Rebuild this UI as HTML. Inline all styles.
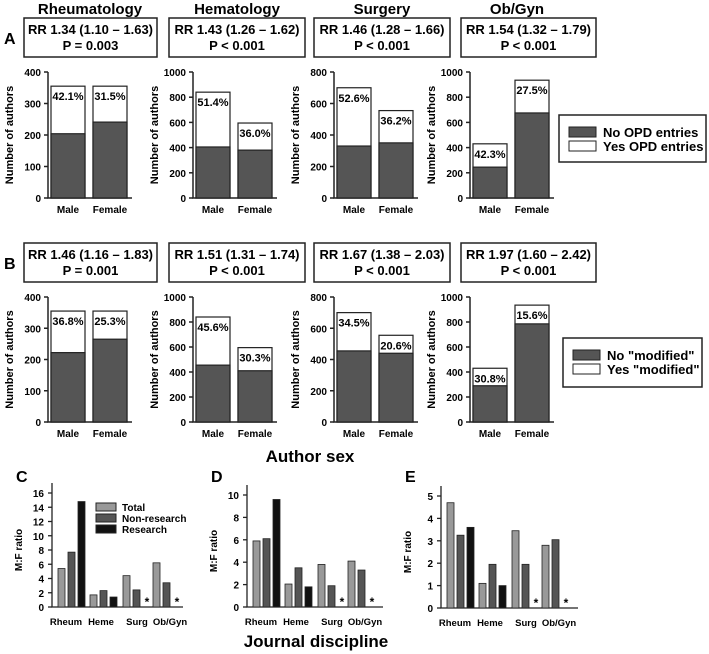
<!DOCTYPE html>
<html><head><meta charset="utf-8"><style>
body{margin:0;background:#fff;}
svg{display:block;font-family:"Liberation Sans",Arial,sans-serif;font-weight:bold;}
</style></head><body>
<svg id="fig" width="709" height="654" viewBox="0 0 709 654"></svg>
<script>
// ---- data ----
const disciplines = ["Rheumatology","Hematology","Surgery","Ob/Gyn"];
const sexes = ["Male","Female"];
const yMaxA = [400,1000,800,1000];
const tickStepA = [100,200,200,200];
const totalsA = [[355,355],[840,595],[700,555],[430,935]];
const noA = [[204,241],[405,380],[330,350],[245,675]];
const pctA = [["42.1%","31.5%"],["51.4%","36.0%"],["52.6%","36.2%"],["42.3%","27.5%"]];
const rrA = ["RR 1.34 (1.10 \u2013 1.63)","RR 1.43 (1.26 \u2013 1.62)","RR 1.46 (1.28 \u2013 1.66)","RR 1.54 (1.32 \u2013 1.79)"];
const pA = ["P = 0.003","P < 0.001","P < 0.001","P < 0.001"];
const totalsB = [[355,355],[840,595],[700,555],[430,935]];
const noB = [[222,265],[455,410],[455,440],[290,785]];
const pctB = [["36.8%","25.3%"],["45.6%","30.3%"],["34.5%","20.6%"],["30.8%","15.6%"]];
const rrB = ["RR 1.46 (1.16 \u2013 1.83)","RR 1.51 (1.31 \u2013 1.74)","RR 1.67 (1.38 \u2013 2.03)","RR 1.97 (1.60 \u2013 2.42)"];
const pB = ["P = 0.001","P < 0.001","P < 0.001","P < 0.001"];
const groups = ["Rheum","Heme","Surg","Ob/Gyn"];
const seriesNames = ["Total","Non-research","Research"];
const ratioC = [[5.4,7.7,14.8],[1.7,2.3,1.4],[4.4,2.4,null],[6.2,3.4,null]];
const ratioD = [[5.9,6.1,9.6],[2.05,3.5,1.8],[3.8,1.9,null],[4.1,3.3,null]];
const ratioE = [[4.7,3.25,3.6],[1.1,1.95,1.0],[3.45,1.95,null],[2.8,3.05,null]];
const ticksC = [0,2,4,6,8,10,12,14,16];
const ticksD = [0,2,4,6,8,10];
const ticksE = [0,1,2,3,4,5];

const NS="http://www.w3.org/2000/svg";
const svg=document.getElementById('fig');
function el(tag,attrs,parent,txt){const e=document.createElementNS(NS,tag);for(const k in attrs)e.setAttribute(k,attrs[k]);if(txt!=null)e.textContent=txt;(parent||svg).appendChild(e);return e;}

// titles
const titleX=[90,237,382,517];
disciplines.forEach((d,i)=>{
  const t=el('text',{x:titleX[i],y:14,'text-anchor':'middle','font-size':15},svg,d);
  
  
});

function stackedPanel(label,yTop,yBot,boxY,totals,no,pct,rr,pv,legend,legBox){
  const L=el('text',{x:4,y:boxY+26,'font-size':16},svg,label);
  
  
  const axX=[48,193,334,470];
  const boxX=[[24,157],[169,305],[314,450],[461,596]];
  for(let i=0;i<4;i++){
    const g=el('g',{});
    
    
    const b=el('rect',{x:boxX[i][0],y:boxY,width:boxX[i][1]-boxX[i][0],height:39,fill:'#fff',stroke:'#222','stroke-width':1.5},g);
    
    
    const cx=(boxX[i][0]+boxX[i][1])/2;
    el('text',{x:cx,y:boxY+16,'text-anchor':'middle','font-size':13},g,rr[i]);
    el('text',{x:cx,y:boxY+32,'text-anchor':'middle','font-size':13},g,pv[i]);
    const ax=axX[i];
    const ys=v=>yBot-(v/yMaxA[i])*(yBot-yTop);
    const axis=el('path',{d:`M${ax} ${yTop}V${yBot}H${ax+84}`,stroke:'#222','stroke-width':1.5,fill:'none'},g);
    
    
    for(let v=0;v<=yMaxA[i];v+=tickStepA[i]){
      el('line',{x1:ax-4,x2:ax,y1:ys(v),y2:ys(v),stroke:'#222','stroke-width':1.5},g);
      el('text',{x:ax-7,y:ys(v)+4,'text-anchor':'end','font-size':10},g,String(v));
    }
    const yt=el('text',{transform:`translate(${ax-35},${(yTop+yBot)/2}) rotate(-90)`,'text-anchor':'middle','font-size':11},g,'Number of authors');
    
    
    for(let s=0;s<2;s++){
      const x0=ax+3+s*42;
      const yb=el('rect',{x:x0,y:ys(totals[i][s]),width:34,height:yBot-ys(totals[i][s]),fill:'#fff',stroke:'#222','stroke-width':1.2},g);
      
      
      const nb=el('rect',{x:x0,y:ys(no[i][s]),width:34,height:yBot-ys(no[i][s]),fill:'#555',stroke:'#222','stroke-width':1.2},g);
      
      
      el('text',{x:x0+17,y:ys(totals[i][s])+14,'text-anchor':'middle','font-size':11},g,pct[i][s]);
      el('text',{x:x0+17,y:yBot+15,'text-anchor':'middle','font-size':10},g,sexes[s]);
    }
  }
  const lg=el('g',{});
  
  
  el('rect',{x:legBox[0],y:legBox[1],width:legBox[2],height:legBox[3],fill:'#fff',stroke:'#222','stroke-width':1.5},lg);
  el('rect',{x:legBox[0]+10,y:legBox[1]+12,width:27,height:10,fill:'#555',stroke:'#222'},lg);
  el('rect',{x:legBox[0]+10,y:legBox[1]+26,width:27,height:10,fill:'#fff',stroke:'#222'},lg);
  el('text',{x:legBox[0]+44,y:legBox[1]+22,'font-size':13},lg,legend[0]);
  el('text',{x:legBox[0]+44,y:legBox[1]+36,'font-size':13},lg,legend[1]);
}
stackedPanel('A',72,198,18,totalsA,noA,pctA,rrA,pA,['No OPD entries','Yes OPD entries'],[559,115,147,47]);
stackedPanel('B',297,422,243,totalsB,noB,pctB,rrB,pB,['No "modified"','Yes "modified"'],[563,338,139,49]);

const as=el('text',{x:310,y:462,'text-anchor':'middle','font-size':17},svg,'Author sex');



const colors=['#999','#555','#111'];
function ratioPanel(label,ax,data,ticks,yMax,yZeroPx,yTopTickPx,axEnd){
  const g=el('g',{});
  
  
  el('text',{x:ax-36,y:482,'font-size':16},g,label);
  const top=ticks[ticks.length-1];
  const ys=v=>yZeroPx-(v/top)*(yZeroPx-yTopTickPx);
  const axis=el('path',{d:`M${ax} ${yTopTickPx-10}V${yZeroPx}H${axEnd}`,stroke:'#222','stroke-width':1.3,fill:'none'},g);
  
  
  ticks.forEach(v=>{
    el('line',{x1:ax-4,x2:ax,y1:ys(v),y2:ys(v),stroke:'#222','stroke-width':1.3},g);
    el('text',{x:ax-8,y:ys(v)+4,'text-anchor':'end','font-size':10},g,String(v));
  });
  const yt=el('text',{transform:`translate(${ax-30},${(yZeroPx+yTopTickPx)/2}) rotate(-90)`,'text-anchor':'middle','font-size':10},g,'M:F ratio');
  
  
  const gx=[6,38,71,101];
  const lx=[14,49,85,118];
  data.forEach((grp,gi)=>{
    grp.forEach((v,si)=>{
      const x0=ax+gx[gi]+si*10;
      if(v==null){
        el('text',{x:x0+4,y:yZeroPx-1,'text-anchor':'middle','font-size':12},g,'*');
      } else {
        const r=el('rect',{x:x0,y:ys(v),width:7,height:yZeroPx-ys(v),fill:colors[si],stroke:'#222','stroke-width':0.8},g);
        
        
      }
    });
    el('text',{x:ax+lx[gi],y:yZeroPx+18,'text-anchor':'middle','font-size':9.5},g,groups[gi]);
  });
}
ratioPanel('C',52,ratioC,ticksC,16,607,493,183);
ratioPanel('D',247,ratioD,ticksD,10,607,495,383);
ratioPanel('E',441,ratioE,ticksE,5,608,496,578);

// legend C
const lc=el('g',{});


seriesNames.forEach((n,i)=>{
  el('rect',{x:96,y:503+i*11,width:20,height:8,fill:colors[i],stroke:'#222'},lc);
  el('text',{x:122,y:511+i*11,'font-size':10},lc,n);
});
const jd=el('text',{x:316,y:647,'text-anchor':'middle','font-size':17},svg,'Journal discipline');


</script>
</body></html>
